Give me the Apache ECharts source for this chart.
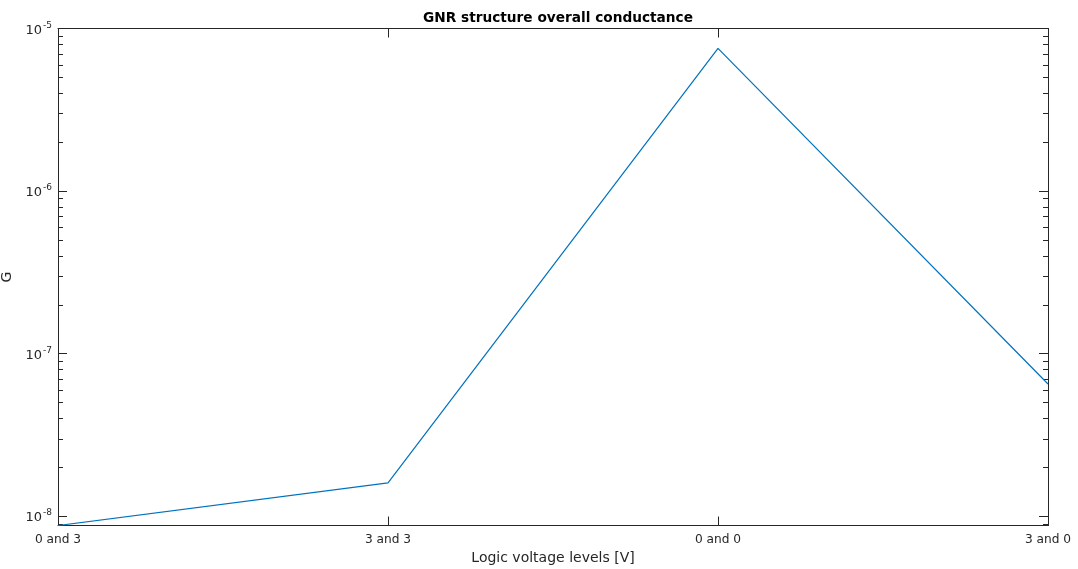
<!DOCTYPE html>
<html>
<head>
<meta charset="utf-8">
<title>GNR structure overall conductance</title>
<script src="https://cdn.jsdelivr.net/npm/echarts@6/dist/echarts.min.js"></script>
<style>
  html, body { margin: 0; padding: 0; background: #fff; }
  #chart { width: 1078px; height: 569px; }
</style>
</head>
<body>
<div id="chart"></div>
<script>
// Input logic levels and measured overall conductance of the GNR structure
const levels = ['0 and 3', '3 and 3', '0 and 0', '3 and 0'];
const conductance = [8.75e-9, 1.6e-8, 7.55e-6, 6.5e-8];

// Log axis range and decade tick exponents
const yMin = 8.75e-9;
const yMax = 1e-5;
const decadeExponents = [-8, -7, -6, -5];

// Minor ticks at 2..9 within each decade, kept inside the axis range
const minorTicks = [];
for (let e = -9; e <= -6; e++) {
  for (let k = 2; k <= 9; k++) {
    const v = k * Math.pow(10, e);
    if (v >= yMin && v <= yMax) minorTicks.push(v);
  }
}

const axisColor = '#262626';
const lineColor = '#0072BD';
const font = 'DejaVu Sans';

const chart = echarts.init(document.getElementById('chart'), null, { renderer: 'canvas' });

function decadeLabel(value) {
  const ex = Math.log10(value);
  const r = Math.round(ex);
  if (Math.abs(ex - r) > 1e-6 || decadeExponents.indexOf(r) < 0) return '';
  return '{base|10}{sup|' + r + '}';
}

chart.setOption({
  animation: false,
  backgroundColor: '#ffffff',
  title: {
    text: 'GNR structure overall conductance',
    left: 553,
    textAlign: 'center',
    top: 6,
    textStyle: { fontFamily: font, fontSize: 13.7, fontWeight: 'bold', color: '#000' }
  },
  grid: { left: 58, right: 30, top: 28.5, bottom: 43.5, containLabel: false, outerBoundsMode: 'none' },
  xAxis: [
    {
      type: 'category',
      data: levels,
      boundaryGap: false,
      position: 'bottom',
      name: 'Logic voltage levels [V]',
      nameLocation: 'middle',
      nameGap: 26,
      nameTextStyle: { fontFamily: font, fontSize: 14, color: axisColor },
      axisLine: { show: true, lineStyle: { color: axisColor, width: 1 } },
      axisTick: { show: true, inside: true, length: 9, alignWithLabel: true, lineStyle: { color: axisColor } },
      axisLabel: { show: true, margin: 8, fontFamily: font, fontSize: 12.2, color: axisColor, interval: 0 },
      splitLine: { show: false }
    },
    {
      type: 'category',
      data: levels,
      boundaryGap: false,
      position: 'top',
      axisLine: { show: true, lineStyle: { color: axisColor, width: 1 } },
      axisTick: { show: true, inside: true, length: 9, alignWithLabel: true, lineStyle: { color: axisColor } },
      axisLabel: { show: false },
      splitLine: { show: false }
    }
  ],
  yAxis: [
    {
      type: 'log',
      logBase: 10,
      min: yMin,
      max: yMax,
      position: 'left',
      name: 'G',
      nameLocation: 'middle',
      nameGap: 37,
      nameRotate: 90,
      nameTextStyle: { fontFamily: font, fontSize: 14, color: axisColor },
      axisLine: { show: true, lineStyle: { color: axisColor, width: 1 } },
      axisTick: { show: true, inside: true, length: 9, lineStyle: { color: axisColor } },
      axisLabel: {
        show: true,
        margin: 6,
        formatter: decadeLabel,
        color: axisColor,
        rich: {
          base: { fontFamily: font, fontSize: 13, color: axisColor, padding: [4, 0, 0, 0] },
          sup: { fontFamily: font, fontSize: 9, color: axisColor, padding: [0, 0, 6, 1] }
        }
      },
      splitLine: { show: false }
    },
    {
      type: 'log',
      logBase: 10,
      min: yMin,
      max: yMax,
      position: 'right',
      axisLine: { show: true, lineStyle: { color: axisColor, width: 1 } },
      axisTick: { show: true, inside: true, length: 9, lineStyle: { color: axisColor } },
      axisLabel: { show: false },
      splitLine: { show: false }
    }
  ],
  series: [
    {
      name: 'G',
      type: 'line',
      xAxisIndex: 0,
      yAxisIndex: 0,
      data: conductance,
      showSymbol: false,
      symbol: 'none',
      lineStyle: { color: lineColor, width: 1.2 },
      itemStyle: { color: lineColor },
      z: 3
    },
    {
      // Minor log ticks on both the left and right edges of the plot box
      type: 'custom',
      xAxisIndex: 0,
      yAxisIndex: 0,
      silent: true,
      clip: false,
      data: minorTicks.map(v => [0, v]),
      renderItem: function (params, api) {
        const cs = params.coordSys;
        const y = Math.round(api.coord([0, api.value(1)])[1]) + 0.5;
        const len = 5;
        const style = { stroke: axisColor, lineWidth: 1 };
        return {
          type: 'group',
          children: [
            { type: 'line', shape: { x1: cs.x, y1: y, x2: cs.x + len, y2: y }, style: style },
            { type: 'line', shape: { x1: cs.x + cs.width - len, y1: y, x2: cs.x + cs.width, y2: y }, style: style }
          ]
        };
      },
      z: 2
    }
  ]
});
</script>
</body>
</html>
